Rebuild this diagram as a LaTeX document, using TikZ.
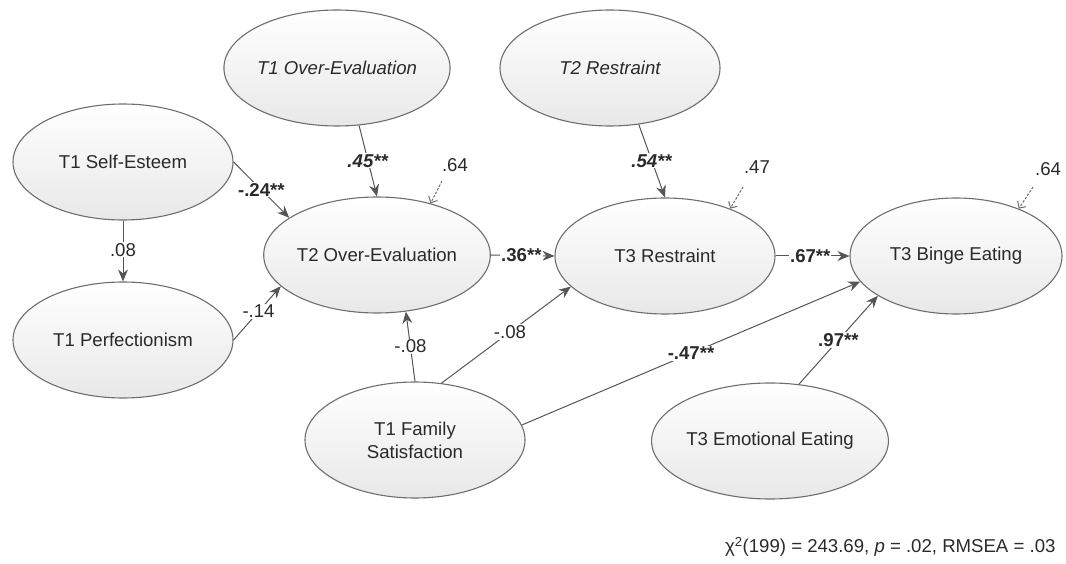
\documentclass[tikz,border=0pt]{standalone}
\usepackage{fontspec}
\setmainfont{Liberation Sans}
\usepackage{tikz}
\usetikzlibrary{arrows.meta}
\usetikzlibrary{shapes}
\definecolor{rim}{HTML}{6E6E6E}
\definecolor{edge}{HTML}{555555}
\definecolor{ink}{HTML}{2A2A2A}
\tikzstyle{var}=[ellipse,draw=rim,line width=1.1pt,top color=white,bottom color=gray!18,minimum width=220pt,minimum height=116pt,inner sep=0pt,text=ink]
\tikzstyle{eff}=[draw=edge,line width=1pt,-{Stealth[length=12pt,width=10pt]}]
\tikzstyle{res}=[draw=edge!85,line width=1pt,dash pattern=on 2.5pt off 1.5pt,-{Straight Barb[length=5pt,width=10pt]}]
\tikzstyle{coef}=[fill=white,inner sep=1pt,text=ink]
\begin{document}
\begin{tikzpicture}[x=1pt,y=-1pt,font=\fontsize{18.6}{23}\selectfont]
		\useasboundingbox (0,0) rectangle (1066,564);
		\node[var] (se) at (123,162) {T1 Self-Esteem};
		\node[var] (pf) at (123,340) {T1 Perfectionism};
		\node[var] (oe1) at (337,68) {\itshape T1 Over-Evaluation};
		\node[var] (oe2) at (377,255) {T2 Over-Evaluation};
		\node[var] (rs2) at (610,68) {\itshape T2 Restraint};
		\node[var] (rs3) at (665,256) {T3 Restraint};
		\node[var,minimum width=212pt] (be3) at (956,256) {T3 Binge Eating};
		\node[var,align=center] (fam) at (415,440) {T1 Family\\Satisfaction};
		\node[var] (emo) at (770,441) {T3 Emotional Eating};
%
		\draw[eff] (se.south) -- node[coef,pos=0.48] {.08} (pf.north);
		\draw[eff] (se.east) -- node[coef,pos=0.5] {\textbf{-.24**}} (oe2.157);
		\draw[eff] (pf.east) -- node[coef,pos=0.53] {-.14} (oe2.198);
		\draw[eff] (oe1.-69) -- node[coef,pos=0.5] {\textbf{\textit{.45**}}} (oe2.north);
		\draw[eff] (rs2.-63) -- node[coef,pos=0.5] {\textbf{\textit{.54**}}} (rs3.north);
		\draw[eff] (oe2.east) -- node[coef,pos=0.48] {\textbf{.36**}} (rs3.west);
		\draw[eff] (rs3.east) -- node[coef,pos=0.47] {\textbf{.67**}} (be3.west);
		\draw[eff] (fam.north) -- node[coef,pos=0.5] {-.08} (oe2.-63);
		\draw[eff] (fam.65) -- node[coef,pos=0.53] {-.08} (rs3.198);
		\draw[eff] (fam.8) -- node[coef,pos=0.5] {\textbf{-.47**}} (be3.195);
		\draw[eff] (emo.63) -- node[coef,pos=0.5] {\textbf{.97**}} (be3.207);
%
		\node[text=ink] (e1) at (455,165) {.64};
		\node[text=ink] (e2) at (757,167) {.47};
		\node[text=ink] (e3) at (1048,169) {.64};
		\coordinate (r1) at (442,181);
		\coordinate (r2) at (743,187);
		\coordinate (r3) at (1033,187);
		\draw[res] (r1) -- (oe2.44);
		\draw[res] (r2) -- (rs3.36);
		\draw[res] (r3) -- (be3.37);
%
		\node[anchor=east,text=ink] (fit) at (1059,547) {χ\textsuperscript{2}(199) = 243.69, \textit{p} = .02, RMSEA = .03};
\end{tikzpicture}
\end{document}
